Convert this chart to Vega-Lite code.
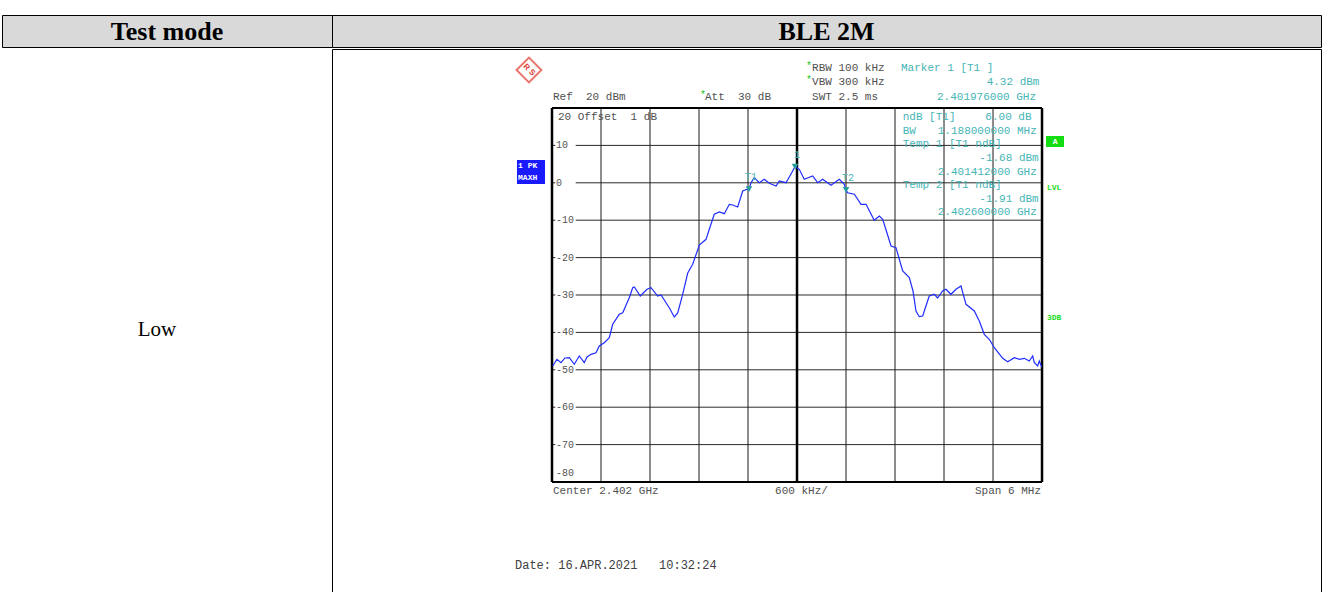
{
  "$schema": "https://vega.github.io/schema/vega-lite/v6.json",
  "padding": {"left": 1, "top": 14, "right": 0, "bottom": 0},
  "spacing": 0,
  "background": "white",
  "config": {"view": {"stroke": "#000000", "strokeWidth": 1}, "concat": {"spacing": 0}},
  "datasets": {
    "trace": [
      {"f": 2399.009, "v": -48.98}, {"f": 2399.061, "v": -47.19}, {"f": 2399.110, "v": -48.10}, {"f": 2399.159, "v": -46.84},
      {"f": 2399.212, "v": -46.76}, {"f": 2399.273, "v": -48.53}, {"f": 2399.334, "v": -46.31}, {"f": 2399.395, "v": -48.10},
      {"f": 2399.429, "v": -46.58}, {"f": 2399.478, "v": -45.86}, {"f": 2399.539, "v": -45.43}, {"f": 2399.579, "v": -43.64},
      {"f": 2399.640, "v": -42.75}, {"f": 2399.702, "v": -41.42}, {"f": 2399.743, "v": -37.83}, {"f": 2399.824, "v": -35.16},
      {"f": 2399.866, "v": -34.73}, {"f": 2399.946, "v": -30.72}, {"f": 2399.988, "v": -28.05}, {"f": 2400.008, "v": -27.86},
      {"f": 2400.081, "v": -30.27}, {"f": 2400.163, "v": -28.48}, {"f": 2400.212, "v": -28.05}, {"f": 2400.294, "v": -30.27},
      {"f": 2400.335, "v": -30.00}, {"f": 2400.436, "v": -33.40}, {"f": 2400.497, "v": -35.88}, {"f": 2400.539, "v": -34.81},
      {"f": 2400.600, "v": -29.81}, {"f": 2400.662, "v": -24.12}, {"f": 2400.723, "v": -21.79}, {"f": 2400.804, "v": -16.63},
      {"f": 2400.886, "v": -15.11}, {"f": 2400.935, "v": -11.82}, {"f": 2400.987, "v": -8.42}, {"f": 2401.049, "v": -7.81},
      {"f": 2401.110, "v": -8.26}, {"f": 2401.171, "v": -5.75}, {"f": 2401.213, "v": -5.94}, {"f": 2401.274, "v": -6.47},
      {"f": 2401.335, "v": -2.19}, {"f": 2401.388, "v": -1.74}, {"f": 2401.412, "v": -1.68}, {"f": 2401.437, "v": 0.03},
      {"f": 2401.477, "v": 1.36}, {"f": 2401.538, "v": 0.03}, {"f": 2401.600, "v": 0.94}, {"f": 2401.661, "v": -0.13},
      {"f": 2401.743, "v": -0.86}, {"f": 2401.783, "v": 0.48}, {"f": 2401.865, "v": 0.03}, {"f": 2401.947, "v": 3.16},
      {"f": 2401.976, "v": 4.32}, {"f": 2402.028, "v": 3.61}, {"f": 2402.089, "v": 0.94}, {"f": 2402.192, "v": 1.82},
      {"f": 2402.253, "v": 0.03}, {"f": 2402.314, "v": 0.94}, {"f": 2402.416, "v": -0.67}, {"f": 2402.518, "v": 0.94},
      {"f": 2402.579, "v": -0.40}, {"f": 2402.600, "v": -1.91}, {"f": 2402.621, "v": -2.65}, {"f": 2402.702, "v": -3.07},
      {"f": 2402.784, "v": -5.75}, {"f": 2402.845, "v": -5.75}, {"f": 2402.946, "v": -10.03}, {"f": 2403.008, "v": -8.88},
      {"f": 2403.049, "v": -9.76}, {"f": 2403.102, "v": -13.42}, {"f": 2403.151, "v": -16.90}, {"f": 2403.212, "v": -17.35},
      {"f": 2403.294, "v": -23.58}, {"f": 2403.375, "v": -25.37}, {"f": 2403.420, "v": -28.93}, {"f": 2403.457, "v": -34.28},
      {"f": 2403.497, "v": -35.80}, {"f": 2403.539, "v": -35.61}, {"f": 2403.619, "v": -30.27}, {"f": 2403.681, "v": -29.81},
      {"f": 2403.722, "v": -30.80}, {"f": 2403.783, "v": -28.93}, {"f": 2403.824, "v": -28.48}, {"f": 2403.885, "v": -29.81},
      {"f": 2403.947, "v": -28.48}, {"f": 2404.008, "v": -27.59}, {"f": 2404.069, "v": -32.49}, {"f": 2404.171, "v": -34.28},
      {"f": 2404.232, "v": -36.95}, {"f": 2404.293, "v": -40.51}, {"f": 2404.354, "v": -41.84}, {"f": 2404.416, "v": -44.09},
      {"f": 2404.519, "v": -46.93}, {"f": 2404.580, "v": -47.83}, {"f": 2404.661, "v": -46.76}, {"f": 2404.722, "v": -47.19},
      {"f": 2404.783, "v": -46.93}, {"f": 2404.844, "v": -47.65}, {"f": 2404.886, "v": -46.31}, {"f": 2404.906, "v": -48.10},
      {"f": 2404.947, "v": -48.98}, {"f": 2404.967, "v": -47.65}, {"f": 2404.996, "v": -49.25}
    ],
    "hlev": [{"v": 10}, {"v": 0}, {"v": -10}, {"v": -20}, {"v": -30}, {"v": -40}, {"v": -50}, {"v": -60}, {"v": -70}],
    "vlev": [{"f": 2399.6}, {"f": 2400.2}, {"f": 2400.8}, {"f": 2401.4}, {"f": 2402.6}, {"f": 2403.2}, {"f": 2403.8}, {"f": 2404.4}],
    "frameV": [{"f": 2399}, {"f": 2402}, {"f": 2405}],
    "frameH": [{"v": 20}, {"v": -80}],
    "ylab": [
      {"v": 10, "t": "10"}, {"v": 0, "t": "0"}, {"v": -10, "t": "-10"}, {"v": -20, "t": "-20"}, {"v": -30, "t": "-30"},
      {"v": -40, "t": "-40"}, {"v": -50, "t": "-50"}, {"v": -60, "t": "-60"}, {"v": -70, "t": "-70"}, {"v": -77.59, "t": "-80"}
    ],
    "grayNotes": [
      {"f": 2399.012, "v": 22.94, "t": "Ref\u00a0\u00a020\u00a0dBm"},
      {"f": 2400.873, "v": 22.94, "t": "Att\u00a0\u00a030\u00a0dB"},
      {"f": 2402.184, "v": 22.94, "t": "SWT 2.5 ms"},
      {"f": 2402.184, "v": 30.70, "t": "RBW 100 kHz"},
      {"f": 2402.184, "v": 26.95, "t": "VBW 300 kHz"},
      {"f": 2399.073, "v": 17.59, "t": "20 Offset\u00a0\u00a01 dB"},
      {"f": 2399.012, "v": -82.41, "t": "Center 2.402 GHz"},
      {"f": 2401.731, "v": -82.41, "t": "600 kHz/"},
      {"f": 2404.179, "v": -82.41, "t": "Span 6 MHz"}
    ],
    "tealNotes": [
      {"f": 2403.273, "v": 30.70, "t": "Marker 1 [T1 ]"},
      {"f": 2404.322, "v": 26.95, "t": "4.32 dBm"},
      {"f": 2403.714, "v": 22.94, "t": "2.401976000 GHz"},
      {"f": 2403.294, "v": 17.59, "t": "ndB [T1]"},
      {"f": 2404.306, "v": 17.59, "t": "6.00 dB"},
      {"f": 2403.294, "v": 13.98, "t": "BW"},
      {"f": 2403.723, "v": 13.98, "t": "1.188000000 MHz"},
      {"f": 2403.294, "v": 10.37, "t": "Temp 1 [T1 ndB]"},
      {"f": 2404.232, "v": 6.63, "t": "-1.68 dBm"},
      {"f": 2403.723, "v": 3.02, "t": "2.401412000 GHz"},
      {"f": 2403.294, "v": -0.59, "t": "Temp 2 [T1 ndB]"},
      {"f": 2404.232, "v": -4.20, "t": "-1.91 dBm"},
      {"f": 2403.723, "v": -7.94, "t": "2.402600000 GHz"}
    ],
    "stars": [
      {"f": 2400.812, "v": 23.4, "t": "*"},
      {"f": 2402.110, "v": 31.1, "t": "*"},
      {"f": 2402.110, "v": 27.4, "t": "*"}
    ],
    "side": [
      {"f": 2405.061, "v": -1.39, "t": "LVL"},
      {"f": 2405.061, "v": -36.15, "t": "3DB"}
    ],
    "boxes": [
      {"f": 2398.571, "f2": 2398.914, "v": 6.10, "v2": -0.32, "k": "trace"},
      {"f": 2405.049, "f2": 2405.269, "v": 12.51, "v2": 9.57, "k": "status"}
    ],
    "boxtext": [
      {"f": 2398.584, "v": 4.49, "t": "1 PK"},
      {"f": 2398.584, "v": 1.28, "t": "MAXH"},
      {"f": 2405.130, "v": 11.04, "t": "A"}
    ],
    "markers": [
      {"f": 2401.976, "v": 4.32, "name": "1"},
      {"f": 2401.412, "v": -1.68, "name": "T1"},
      {"f": 2402.600, "v": -1.91, "name": "T2"}
    ],
    "logo": [{"f": 2398.718, "v": 30.16, "t": "R S"}],
    "date": [{"f": 2398.547, "v": -102.19, "t": "Date: 16.APR.2021\u00a0\u00a0\u00a010:32:24"}]
  },
  "vconcat": [
    {
      "spacing": 0,
      "bounds": "flush",
      "hconcat": [
        {
          "width": 330, "height": 32,
          "view": {"fill": "#d9d9d9", "stroke": "#000000"},
          "data": {"values": [{"h": "Test mode"}]},
          "mark": {"type": "text", "font": "Liberation Serif", "fontWeight": "bold", "fontSize": 26, "color": "#000000", "baseline": "middle", "align": "center", "dy": 1},
          "encoding": {"text": {"field": "h", "type": "nominal"}}
        },
        {
          "width": 989, "height": 32,
          "view": {"fill": "#d9d9d9", "stroke": "#000000"},
          "data": {"values": [{"h": "BLE 2M"}]},
          "mark": {"type": "text", "font": "Liberation Serif", "fontWeight": "bold", "fontSize": 26, "color": "#000000", "baseline": "middle", "align": "center", "dy": 1},
          "encoding": {"text": {"field": "h", "type": "nominal"}}
        }
      ]
    },
    {
      "spacing": 0,
      "bounds": "flush",
      "hconcat": [
        {
          "width": 330, "height": 544,
          "data": {"values": [{"m": "Low"}]},
          "mark": {"type": "text", "font": "Liberation Serif", "fontSize": 21, "color": "#000000", "baseline": "middle", "align": "center", "dx": -10, "dy": 9},
          "encoding": {"text": {"field": "m", "type": "nominal"}}
        },
        {
          "width": 989, "height": 544,
          "layer": [
            {
              "data": {"name": "hlev"},
              "mark": {"type": "rule", "color": "#2a2a2a", "strokeWidth": 1},
              "encoding": {
                "x": {"datum": 2399.29, "type": "quantitative", "scale": {"domain": [2396.3062, 2408.416], "nice": false, "zero": false}, "axis": null},
                "x2": {"datum": 2405},
                "y": {"field": "v", "type": "quantitative", "scale": {"domain": [-109.679, 35.775], "nice": false, "zero": false}, "axis": null}
              }
            },
            {
              "data": {"name": "hlev"},
              "mark": {"type": "rule", "color": "#2a2a2a", "strokeWidth": 1},
              "encoding": {
                "x": {"datum": 2399, "type": "quantitative", "scale": {"domain": [2396.3062, 2408.416], "nice": false, "zero": false}, "axis": null},
                "x2": {"datum": 2399.04},
                "y": {"field": "v", "type": "quantitative", "scale": {"domain": [-109.679, 35.775], "nice": false, "zero": false}, "axis": null}
              }
            },
            {
              "data": {"name": "vlev"},
              "mark": {"type": "rule", "color": "#1a1a1a", "strokeWidth": 1},
              "encoding": {
                "x": {"field": "f", "type": "quantitative", "scale": {"domain": [2396.3062, 2408.416], "nice": false, "zero": false}, "axis": null},
                "y": {"datum": -80, "type": "quantitative", "scale": {"domain": [-109.679, 35.775], "nice": false, "zero": false}, "axis": null},
                "y2": {"datum": 20}
              }
            },
            {
              "data": {"name": "frameV"},
              "mark": {"type": "rule", "color": "#000000", "strokeWidth": 2.5},
              "encoding": {
                "x": {"field": "f", "type": "quantitative", "scale": {"domain": [2396.3062, 2408.416], "nice": false, "zero": false}, "axis": null},
                "y": {"datum": -80, "type": "quantitative", "scale": {"domain": [-109.679, 35.775], "nice": false, "zero": false}, "axis": null},
                "y2": {"datum": 20}
              }
            },
            {
              "data": {"name": "frameH"},
              "mark": {"type": "rule", "color": "#000000", "strokeWidth": 2},
              "encoding": {
                "x": {"datum": 2399, "type": "quantitative", "scale": {"domain": [2396.3062, 2408.416], "nice": false, "zero": false}, "axis": null},
                "x2": {"datum": 2405},
                "y": {"field": "v", "type": "quantitative", "scale": {"domain": [-109.679, 35.775], "nice": false, "zero": false}, "axis": null}
              }
            },
            {
              "data": {"name": "ylab"},
              "mark": {"type": "text", "font": "Liberation Mono", "fontSize": 10, "color": "#555555", "align": "left", "baseline": "middle"},
              "encoding": {
                "x": {"datum": 2399.05, "type": "quantitative", "scale": {"domain": [2396.3062, 2408.416], "nice": false, "zero": false}, "axis": null},
                "y": {"field": "v", "type": "quantitative", "scale": {"domain": [-109.679, 35.775], "nice": false, "zero": false}, "axis": null},
                "text": {"field": "t", "type": "nominal"}
              }
            },
            {
              "data": {"name": "boxes"},
              "mark": {"type": "rect"},
              "encoding": {
                "x": {"field": "f", "type": "quantitative", "scale": {"domain": [2396.3062, 2408.416], "nice": false, "zero": false}, "axis": null},
                "x2": {"field": "f2"},
                "y": {"field": "v", "type": "quantitative", "scale": {"domain": [-109.679, 35.775], "nice": false, "zero": false}, "axis": null},
                "y2": {"field": "v2"},
                "color": {"field": "k", "type": "nominal", "scale": {"domain": ["trace", "status"], "range": ["#1a1aff", "#12dd12"]}, "legend": null}
              }
            },
            {
              "data": {"name": "boxtext"},
              "mark": {"type": "text", "font": "Liberation Mono", "fontSize": 8, "fontWeight": "bold", "color": "#ffffff", "align": "left", "baseline": "middle"},
              "encoding": {
                "x": {"field": "f", "type": "quantitative", "scale": {"domain": [2396.3062, 2408.416], "nice": false, "zero": false}, "axis": null},
                "y": {"field": "v", "type": "quantitative", "scale": {"domain": [-109.679, 35.775], "nice": false, "zero": false}, "axis": null},
                "text": {"field": "t", "type": "nominal"}
              }
            },
            {
              "data": {"name": "grayNotes"},
              "mark": {"type": "text", "font": "Liberation Mono", "fontSize": 11, "color": "#505050", "align": "left", "baseline": "middle"},
              "encoding": {
                "x": {"field": "f", "type": "quantitative", "scale": {"domain": [2396.3062, 2408.416], "nice": false, "zero": false}, "axis": null},
                "y": {"field": "v", "type": "quantitative", "scale": {"domain": [-109.679, 35.775], "nice": false, "zero": false}, "axis": null},
                "text": {"field": "t", "type": "nominal"}
              }
            },
            {
              "data": {"name": "tealNotes"},
              "mark": {"type": "text", "font": "Liberation Mono", "fontSize": 11, "color": "#45b5b5", "align": "left", "baseline": "middle"},
              "encoding": {
                "x": {"field": "f", "type": "quantitative", "scale": {"domain": [2396.3062, 2408.416], "nice": false, "zero": false}, "axis": null},
                "y": {"field": "v", "type": "quantitative", "scale": {"domain": [-109.679, 35.775], "nice": false, "zero": false}, "axis": null},
                "text": {"field": "t", "type": "nominal"}
              }
            },
            {
              "data": {"name": "stars"},
              "mark": {"type": "text", "font": "Liberation Mono", "fontSize": 10, "color": "#22c522", "align": "left", "baseline": "middle"},
              "encoding": {
                "x": {"field": "f", "type": "quantitative", "scale": {"domain": [2396.3062, 2408.416], "nice": false, "zero": false}, "axis": null},
                "y": {"field": "v", "type": "quantitative", "scale": {"domain": [-109.679, 35.775], "nice": false, "zero": false}, "axis": null},
                "text": {"field": "t", "type": "nominal"}
              }
            },
            {
              "data": {"name": "side"},
              "mark": {"type": "text", "font": "Liberation Mono", "fontSize": 8, "fontWeight": "bold", "color": "#22dd22", "align": "left", "baseline": "middle"},
              "encoding": {
                "x": {"field": "f", "type": "quantitative", "scale": {"domain": [2396.3062, 2408.416], "nice": false, "zero": false}, "axis": null},
                "y": {"field": "v", "type": "quantitative", "scale": {"domain": [-109.679, 35.775], "nice": false, "zero": false}, "axis": null},
                "text": {"field": "t", "type": "nominal"}
              }
            },
            {
              "data": {"name": "logo"},
              "mark": {"type": "point", "shape": "diamond", "size": 620, "filled": false, "color": "#e03a30", "strokeWidth": 2},
              "encoding": {
                "x": {"field": "f", "type": "quantitative", "scale": {"domain": [2396.3062, 2408.416], "nice": false, "zero": false}, "axis": null},
                "y": {"field": "v", "type": "quantitative", "scale": {"domain": [-109.679, 35.775], "nice": false, "zero": false}, "axis": null}
              }
            },
            {
              "data": {"name": "logo"},
              "mark": {"type": "text", "font": "Liberation Sans", "fontSize": 8, "fontWeight": "bold", "color": "#e03a30", "align": "center", "baseline": "middle", "angle": 45},
              "encoding": {
                "x": {"field": "f", "type": "quantitative", "scale": {"domain": [2396.3062, 2408.416], "nice": false, "zero": false}, "axis": null},
                "y": {"field": "v", "type": "quantitative", "scale": {"domain": [-109.679, 35.775], "nice": false, "zero": false}, "axis": null},
                "text": {"field": "t", "type": "nominal"}
              }
            },
            {
              "data": {"name": "date"},
              "mark": {"type": "text", "font": "Liberation Mono", "fontSize": 12, "color": "#404040", "align": "left", "baseline": "middle"},
              "encoding": {
                "x": {"field": "f", "type": "quantitative", "scale": {"domain": [2396.3062, 2408.416], "nice": false, "zero": false}, "axis": null},
                "y": {"field": "v", "type": "quantitative", "scale": {"domain": [-109.679, 35.775], "nice": false, "zero": false}, "axis": null},
                "text": {"field": "t", "type": "nominal"}
              }
            },
            {
              "data": {"name": "trace"},
              "mark": {"type": "line", "color": "#1f2dff", "strokeWidth": 1.2},
              "encoding": {
                "x": {"field": "f", "type": "quantitative", "scale": {"domain": [2396.3062, 2408.416], "nice": false, "zero": false}, "axis": null},
                "y": {"field": "v", "type": "quantitative", "scale": {"domain": [-109.679, 35.775], "nice": false, "zero": false}, "axis": null}
              }
            },
            {
              "data": {"name": "markers"},
              "mark": {"type": "point", "shape": "triangle-down", "size": 45, "filled": true, "color": "#2a9d9d", "opacity": 1, "dy": -4},
              "encoding": {
                "x": {"field": "f", "type": "quantitative", "scale": {"domain": [2396.3062, 2408.416], "nice": false, "zero": false}, "axis": null},
                "y": {"field": "v", "type": "quantitative", "scale": {"domain": [-109.679, 35.775], "nice": false, "zero": false}, "axis": null}
              }
            },
            {
              "data": {"name": "markers"},
              "mark": {"type": "text", "font": "Liberation Mono", "fontSize": 10, "color": "#45b5b5", "align": "center", "baseline": "middle", "dy": -12, "dx": 2},
              "encoding": {
                "x": {"field": "f", "type": "quantitative", "scale": {"domain": [2396.3062, 2408.416], "nice": false, "zero": false}, "axis": null},
                "y": {"field": "v", "type": "quantitative", "scale": {"domain": [-109.679, 35.775], "nice": false, "zero": false}, "axis": null},
                "text": {"field": "name", "type": "nominal"}
              }
            }
          ]
        }
      ]
    }
  ]
}
